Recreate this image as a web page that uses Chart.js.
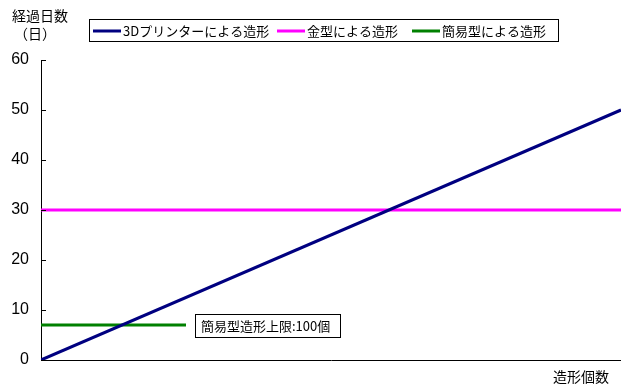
<!DOCTYPE html>
<html>
<head>
<meta charset="utf-8">
<script src="https://cdn.jsdelivr.net/npm/chart.js@4"></script>
<style>
  html, body { margin: 0; padding: 0; background: #fff; }
  #wrap { width: 621px; height: 385px; }
</style>
</head>
<body>
<div id="wrap"><canvas id="chart" width="621" height="385"></canvas></div>
<script>
// values
const seriesNames = ["3Dプリンターによる造形", "金型による造形", "簡易型による造形"];
const printerPoints = [{ x: 0, y: 0 }, { x: 400, y: 50 }];
const moldPoints = [{ x: 0, y: 30 }, { x: 400, y: 30 }];
const simplePoints = [{ x: 0, y: 7 }, { x: 100, y: 7 }];
const seriesColors = ["#000080", "#ff00ff", "#008000"];
const yTicks = [0, 10, 20, 30, 40, 50, 60];
const yTitle = ["経過日数", "（日）"];
const xTitle = "造形個数";
const noteText = "簡易型造形上限:100個";
const noteAt = { x: 100, y: 7 };

const FONT = "'Noto Sans CJK JP', 'Liberation Sans', sans-serif";

const extras = {
  id: "extras",
  afterDraw(chart) {
    const ctx = chart.ctx;
    const xs = chart.scales.x;
    const ys = chart.scales.y;
    ctx.save();
    ctx.strokeStyle = "#000";
    ctx.lineWidth = 1;

    // inward tick marks on y axis
    yTicks.forEach(v => {
      const py = Math.round(ys.getPixelForValue(v)) + 0.5;
      ctx.beginPath();
      ctx.moveTo(xs.left, py);
      ctx.lineTo(xs.left + 5, py);
      ctx.stroke();
    });

    // axis titles
    ctx.fillStyle = "#000";
    ctx.font = "14px " + FONT;
    ctx.textBaseline = "middle";
    ctx.textAlign = "left";
    ctx.fillText(yTitle[0], 12, 16);
    ctx.fillText(yTitle[1], 14, 34);
    ctx.fillText(xTitle, 553, 377);

    // legend box
    const lx = 89, ly = 19, lw = 469, lh = 22;
    ctx.strokeRect(lx + 0.5, ly + 0.5, lw, lh);
    const starts = [93, 277, 412];
    ctx.font = "13px " + FONT;
    seriesNames.forEach((name, i) => {
      ctx.strokeStyle = seriesColors[i];
      ctx.lineWidth = 3;
      ctx.beginPath();
      ctx.moveTo(starts[i], ly + 12);
      ctx.lineTo(starts[i] + 28, ly + 12);
      ctx.stroke();
      ctx.fillText(name, starts[i] + 30, ly + 12);
    });

    // note box at the end of the simple mold line
    const nx = xs.getPixelForValue(noteAt.x) + 9;
    const ny = ys.getPixelForValue(noteAt.y);
    ctx.font = "13px " + FONT;
    const tw = ctx.measureText(noteText).width;
    const bw = Math.round(tw + 16);
    ctx.fillStyle = "#fff";
    ctx.fillRect(nx, ny - 11, bw, 23);
    ctx.strokeStyle = "#000";
    ctx.lineWidth = 1;
    ctx.strokeRect(Math.round(nx) + 0.5, Math.round(ny - 11) + 0.5, bw, 23);
    ctx.fillStyle = "#000";
    ctx.fillText(noteText, nx + 6, ny + 1);
    ctx.restore();
  }
};

const lineSet = (label, data, color) => ({
  label: label,
  data: data,
  borderColor: color,
  backgroundColor: color,
  borderWidth: 3,
  pointRadius: 0,
  fill: false,
  tension: 0
});

new Chart(document.getElementById("chart"), {
  type: "line",
  data: {
    datasets: [
      lineSet(seriesNames[0], printerPoints, seriesColors[0]),
      lineSet(seriesNames[1], moldPoints, seriesColors[1]),
      lineSet(seriesNames[2], simplePoints, seriesColors[2])
    ]
  },
  options: {
    responsive: false,
    animation: false,
    layout: { padding: { top: 60, right: 0, left: 0, bottom: 0 } },
    plugins: { legend: { display: false }, tooltip: { enabled: false } },
    scales: {
      x: {
        type: "linear",
        min: 0,
        max: 400,
        grid: { display: false, drawTicks: false },
        border: { display: true, color: "#000", width: 1 },
        ticks: { display: false },
        afterFit: s => { s.height = 25; }
      },
      y: {
        min: 0,
        max: 60,
        afterBuildTicks: s => { s.ticks = yTicks.map(v => ({ value: v })); },
        grid: { display: false, drawTicks: false },
        border: { display: true, color: "#000", width: 1 },
        ticks: {
          padding: 12,
          color: "#000",
          font: { family: "'Liberation Sans', sans-serif", size: 16 }
        },
        afterFit: s => { s.width = 41; }
      }
    }
  },
  plugins: [extras]
});
</script>
</body>
</html>
